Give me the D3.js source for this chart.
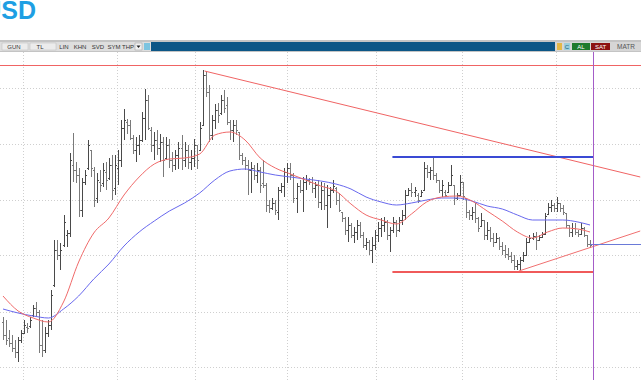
<!DOCTYPE html>
<html>
<head>
<meta charset="utf-8">
<script src="https://cdn.jsdelivr.net/npm/d3@7"></script>
<style>
  body { margin: 0; background: #fff; }
  svg { display: block; font-family: Arial, "Liberation Sans", sans-serif; }
</style>
</head>
<body>
<div id="chart"></div>
<script>
const width = 641, height = 380;
const plotTop = 52;

// daily OHLC
const opens = [2.846,2.833,2.830,2.825,2.820,2.816,2.828,2.835,2.841,2.842,
  2.853,2.860,2.856,2.823,2.818,2.835,2.843,2.883,2.918,2.913,
  2.923,2.933,2.935,3.003,2.998,2.993,2.958,2.986,3.000,3.018,
  2.998,2.970,2.986,2.985,2.996,2.990,3.003,2.980,3.000,3.008,
  3.040,3.046,3.043,3.030,3.018,3.023,3.028,3.050,3.068,3.038,
  3.023,3.028,3.020,3.026,3.010,3.023,3.008,3.003,3.013,3.020,
  3.008,3.018,3.006,3.010,3.023,3.018,3.043,3.093,3.076,3.033,
  3.048,3.058,3.055,3.068,3.063,3.046,3.038,3.043,3.036,3.013,
  3.008,3.003,2.998,3.000,2.993,2.998,2.985,2.983,2.963,2.960,
  2.965,2.956,2.978,2.982,2.996,3.000,2.993,2.970,2.982,2.978,
  2.986,2.988,2.986,2.980,2.983,2.966,2.978,2.963,2.973,2.978,
  2.980,2.968,2.956,2.950,2.938,2.943,2.933,2.936,2.943,2.933,
  2.923,2.926,2.918,2.923,2.933,2.940,2.943,2.946,2.933,2.938,
  2.946,2.938,2.948,2.953,2.973,2.978,2.976,2.973,2.972,2.978,
  3.000,2.996,2.998,2.993,2.988,2.978,2.976,2.976,2.983,2.983,
  2.970,2.973,2.986,2.970,2.956,2.953,2.956,2.950,2.942,2.948,
  2.933,2.938,2.930,2.926,2.930,2.922,2.918,2.914,2.912,2.908,
  2.902,2.904,2.908,2.913,2.926,2.930,2.932,2.928,2.931,2.934,
  2.954,2.961,2.963,2.960,2.965,2.960,2.955,2.943,2.936,2.940,
  2.936,2.934,2.940,2.933,2.924];
const highs = [2.851,2.848,2.838,2.833,2.828,2.831,2.838,2.848,2.845,2.851,
  2.863,2.866,2.858,2.848,2.841,2.848,2.878,2.928,2.928,2.925,
  2.953,2.938,3.015,3.035,3.006,3.000,2.990,2.998,3.028,3.018,
  3.001,2.995,2.998,3.005,3.006,3.010,3.013,3.013,3.018,3.048,
  3.059,3.049,3.048,3.033,3.031,3.033,3.056,3.079,3.073,3.041,
  3.036,3.038,3.034,3.031,3.031,3.029,3.016,3.018,3.026,3.033,
  3.026,3.023,3.018,3.029,3.023,3.046,3.098,3.096,3.083,3.053,
  3.064,3.065,3.073,3.078,3.071,3.048,3.048,3.048,3.036,3.015,
  3.011,3.008,3.006,3.003,3.005,3.001,3.008,2.985,2.968,2.970,
  2.968,2.981,2.985,3.000,3.005,3.005,2.995,2.985,2.988,2.991,
  2.993,2.990,2.991,2.986,2.988,2.986,2.985,2.983,2.981,2.988,
  2.981,2.975,2.956,2.951,2.951,2.945,2.941,2.948,2.946,2.936,
  2.930,2.928,2.931,2.938,2.946,2.950,2.951,2.948,2.941,2.951,
  2.948,2.951,2.958,2.978,2.980,2.985,2.981,2.975,2.978,3.006,
  3.003,3.001,3.011,2.995,2.988,2.988,2.978,2.986,3.003,2.983,
  2.975,2.993,2.986,2.970,2.958,2.961,2.965,2.951,2.955,2.948,
  2.946,2.941,2.935,2.935,2.931,2.926,2.923,2.920,2.916,2.913,
  2.908,2.911,2.916,2.930,2.933,2.935,2.936,2.933,2.936,2.955,
  2.965,2.968,2.965,2.971,2.965,2.963,2.955,2.943,2.945,2.945,
  2.938,2.945,2.941,2.933,2.928];
const lows = [2.828,2.823,2.821,2.816,2.810,2.806,2.825,2.835,2.835,2.840,
  2.851,2.851,2.815,2.811,2.815,2.831,2.838,2.881,2.908,2.898,
  2.921,2.921,2.931,2.986,2.985,2.951,2.951,2.983,2.998,2.991,
  2.961,2.965,2.976,2.981,2.978,2.988,2.968,2.973,2.983,3.001,
  3.028,3.034,3.028,3.014,3.006,3.013,3.026,3.028,3.038,3.016,
  3.008,3.013,3.006,2.991,3.008,3.000,2.996,2.998,2.999,2.998,
  3.001,2.999,2.998,3.001,2.999,3.018,3.043,3.071,3.026,3.028,
  3.039,3.045,3.053,3.055,3.043,3.028,3.026,3.033,3.008,3.003,
  2.998,2.973,2.975,2.988,2.985,2.975,2.980,2.956,2.955,2.958,
  2.953,2.948,2.975,2.971,2.985,2.988,2.965,2.955,2.975,2.956,
  2.978,2.983,2.975,2.970,2.960,2.958,2.958,2.940,2.960,2.975,
  2.963,2.956,2.946,2.933,2.926,2.930,2.925,2.928,2.930,2.920,
  2.918,2.913,2.905,2.918,2.926,2.931,2.936,2.928,2.916,2.935,
  2.931,2.936,2.943,2.948,2.973,2.971,2.971,2.965,2.971,2.978,
  2.990,2.988,2.988,2.985,2.975,2.971,2.971,2.975,2.983,2.963,
  2.968,2.973,2.968,2.950,2.948,2.948,2.945,2.936,2.941,2.928,
  2.928,2.926,2.921,2.925,2.918,2.913,2.910,2.908,2.905,2.898,
  2.898,2.898,2.906,2.913,2.925,2.928,2.918,2.928,2.930,2.933,
  2.953,2.956,2.956,2.956,2.956,2.953,2.940,2.931,2.931,2.933,
  2.931,2.933,2.931,2.921,2.920];
const closes = [2.833,2.828,2.825,2.820,2.816,2.828,2.835,2.843,2.840,2.848,
  2.860,2.856,2.823,2.818,2.835,2.843,2.873,2.918,2.913,2.918,
  2.946,2.935,3.008,2.998,2.993,2.958,2.986,2.993,3.023,3.000,
  2.968,2.988,2.983,2.998,2.988,3.003,2.978,3.003,3.008,3.040,
  3.048,3.043,3.030,3.018,3.023,3.028,3.050,3.068,3.040,3.023,
  3.028,3.020,3.026,3.008,3.023,3.008,3.003,3.013,3.020,3.008,
  3.018,3.006,3.010,3.023,3.008,3.040,3.093,3.076,3.033,3.048,
  3.058,3.053,3.068,3.060,3.046,3.038,3.043,3.038,3.013,3.008,
  3.003,2.998,3.000,2.993,2.998,2.983,2.983,2.963,2.960,2.965,
  2.958,2.978,2.982,2.996,3.000,2.993,2.970,2.982,2.978,2.986,
  2.988,2.986,2.980,2.983,2.966,2.978,2.963,2.973,2.978,2.982,
  2.968,2.958,2.950,2.938,2.943,2.933,2.936,2.943,2.933,2.923,
  2.926,2.918,2.923,2.933,2.940,2.943,2.946,2.933,2.938,2.946,
  2.938,2.948,2.953,2.973,2.978,2.976,2.978,2.968,2.976,3.000,
  2.996,2.998,2.993,2.988,2.978,2.983,2.973,2.983,2.993,2.970,
  2.973,2.986,2.972,2.956,2.953,2.956,2.950,2.940,2.948,2.933,
  2.938,2.930,2.926,2.930,2.922,2.918,2.914,2.912,2.908,2.902,
  2.904,2.908,2.913,2.926,2.930,2.932,2.928,2.931,2.934,2.952,
  2.961,2.963,2.960,2.965,2.960,2.956,2.943,2.936,2.940,2.936,
  2.934,2.940,2.933,2.924,2.923];

// moving averages, read at every 5th bar
const maIndex = [0,5,10,15,20,25,30,35,40,45,50,55,60,65,70,75,80,85,90,95,
  100,105,110,115,120,125,130,135,140,145,150,155,160,165,170,175,180,185,190,194];
const maFast = [2.872,2.857,2.850,2.846,2.866,2.906,2.935,2.950,2.973,2.991,
  3.004,3.009,3.010,3.014,3.033,3.036,3.028,3.010,3.000,2.994,
  2.988,2.982,2.977,2.964,2.953,2.948,2.944,2.954,2.966,2.971,
  2.972,2.967,2.957,2.947,2.936,2.930,2.936,2.940,2.939,2.936];
const maSlow = [2.859,2.855,2.852,2.850,2.859,2.872,2.889,2.904,2.922,2.936,
  2.947,2.957,2.965,2.975,2.988,2.997,2.999,2.996,2.993,2.991,
  2.989,2.987,2.984,2.979,2.971,2.966,2.963,2.965,2.968,2.970,
  2.970,2.967,2.962,2.959,2.953,2.948,2.948,2.948,2.946,2.943];

// grid and drawings
const gridPrices = [3.080, 3.024, 2.968, 2.913, 2.856, 2.801];
const gridBars = [6.6, 37.6, 63.4, 93.7, 123.4, 151.8, 182.8];
const topLevel = 3.103;
const resistance = 3.011, support = 2.896, levelFrom = 128.7;
const cursorBar = 195.1;
const lastPrice = 2.924;
const downTrend = {bars: [66.6, 210.6], prices: [3.097, 2.991]};
const upTrend = {bars: [170.5, 210.6], prices: [2.897, 2.937]};
const leftTools = ["GUN", "TL", "LIN", "KHN", "SVD", "SYM", "THP"];
const leftToolX = [14, 40, 64, 80, 98, 114, 128];

const svg = d3.select("#chart").append("svg")
    .attr("width", width).attr("height", height);

const x = d3.scaleLinear().domain([0, opens.length - 1]).range([3, 590]);
const y = d3.scaleLinear().domain([2.788, 3.116]).range([380, 52]);
const px = v => Math.round(v) + 0.5;

// title, cut at the left edge like the screenshot
svg.append("text")
    .attr("x", 36).attr("y", 19)
    .attr("text-anchor", "end")
    .style("font-size", "25px").style("font-weight", "bold")
    .style("fill", "#1e9fe3")
    .text("USD");

// toolbar
const bar = svg.append("g");
bar.append("rect").attr("x", 0).attr("y", 40).attr("width", width).attr("height", 12).attr("fill", "#c4c4c4");
bar.append("rect").attr("x", 0).attr("y", 42).attr("width", 151).attr("height", 9).attr("fill", "#dedede");
bar.append("rect").attr("x", 2).attr("y", 43).attr("width", 26).attr("height", 7).attr("fill", "#ececec").attr("stroke", "#bcbcbc").attr("stroke-width", 0.5);
bar.append("rect").attr("x", 30).attr("y", 43).attr("width", 26).attr("height", 7).attr("fill", "#ececec").attr("stroke", "#bcbcbc").attr("stroke-width", 0.5);
bar.selectAll("text.tool")
    .data(leftTools)
    .enter()
    .append("text")
    .attr("class", "tool")
    .attr("x", (d, i) => leftToolX[i]).attr("y", 49)
    .attr("text-anchor", "middle")
    .style("font-size", "6px").style("fill", "#333")
    .text(d => d);
bar.append("rect").attr("x", 135).attr("y", 43).attr("width", 7).attr("height", 7).attr("fill", "#f2f2f2").attr("stroke", "#999").attr("stroke-width", 0.5);
bar.append("path").attr("d", "M136.5,45.5 L140.5,45.5 L138.5,48 Z").attr("fill", "#222");
bar.append("rect").attr("x", 144).attr("y", 43).attr("width", 6).attr("height", 7).attr("fill", "#7cc4e0");
bar.append("rect").attr("x", 151).attr("y", 42).attr("width", 404).attr("height", 9).attr("fill", "#0c5686");
bar.append("rect").attr("x", 555).attr("y", 42).attr("width", 86).attr("height", 9).attr("fill", "#d6d6d6");
bar.append("rect").attr("x", 557).attr("y", 43).attr("width", 5).attr("height", 7).attr("fill", "#e4b848");
bar.append("rect").attr("x", 564).attr("y", 43).attr("width", 6).attr("height", 7).attr("fill", "#9ccfdc");
bar.append("text").attr("x", 567).attr("y", 49).attr("text-anchor", "middle")
    .style("font-size", "6px").style("fill", "#1b5f7e").text("C");
bar.append("rect").attr("x", 572).attr("y", 43).attr("width", 18).attr("height", 7).attr("fill", "#1f7a2c");
bar.append("text").attr("x", 581).attr("y", 49).attr("text-anchor", "middle")
    .style("font-size", "6px").style("fill", "#fff").text("AL");
bar.append("rect").attr("x", 591).attr("y", 43).attr("width", 19).attr("height", 7).attr("fill", "#8c1212");
bar.append("text").attr("x", 600.5).attr("y", 49).attr("text-anchor", "middle")
    .style("font-size", "6px").style("fill", "#fff").text("SAT");
bar.append("text").attr("x", 617).attr("y", 49)
    .style("font-size", "6.5px").style("fill", "#555").text("MATR");

// plot area
const plot = svg.append("g");
plot.append("clipPath").attr("id", "clip")
    .append("rect").attr("x", 0).attr("y", plotTop).attr("width", width).attr("height", height - plotTop);
const g = plot.append("g").attr("clip-path", "url(#clip)");

g.selectAll("line.hgrid")
    .data(gridPrices)
    .enter()
    .append("line")
    .attr("x1", 0).attr("x2", width)
    .attr("y1", d => px(y(d))).attr("y2", d => px(y(d)))
    .attr("stroke", "#cfcfcf").attr("stroke-dasharray", "1,2");
g.selectAll("line.vgrid")
    .data(gridBars)
    .enter()
    .append("line")
    .attr("x1", d => px(x(d))).attr("x2", d => px(x(d)))
    .attr("y1", plotTop).attr("y2", height)
    .attr("stroke", "#cfcfcf").attr("stroke-dasharray", "1,2");

// top horizontal level
g.append("line")
    .attr("x1", 0).attr("x2", width)
    .attr("y1", px(y(topLevel))).attr("y2", px(y(topLevel)))
    .attr("stroke", "#f06464");

// OHLC bars
const idx = d3.range(opens.length);
const barColor = i => closes[i] >= opens[i] ? "#4a4a4a" : "#7a7a7a";
const bars = g.append("g").attr("shape-rendering", "crispEdges");
bars.selectAll("line.hl")
    .data(idx)
    .enter()
    .append("line")
    .attr("x1", i => px(x(i))).attr("x2", i => px(x(i)))
    .attr("y1", i => y(highs[i])).attr("y2", i => y(lows[i]))
    .attr("stroke", barColor);
bars.selectAll("line.o")
    .data(idx)
    .enter()
    .append("line")
    .attr("x1", i => px(x(i)) - 1.5).attr("x2", i => px(x(i)))
    .attr("y1", i => px(y(opens[i]))).attr("y2", i => px(y(opens[i])))
    .attr("stroke", barColor);
bars.selectAll("line.c")
    .data(idx)
    .enter()
    .append("line")
    .attr("x1", i => px(x(i))).attr("x2", i => px(x(i)) + 1.5)
    .attr("y1", i => px(y(closes[i]))).attr("y2", i => px(y(closes[i])))
    .attr("stroke", barColor);

// moving averages
const maLine = series => d3.line()
    .x(i => x(maIndex[i]))
    .y(i => y(series[i]))
    .curve(d3.curveMonotoneX)(d3.range(maIndex.length));
g.append("path").attr("d", maLine(maSlow))
    .attr("fill", "none").attr("stroke", "#6868ee").attr("stroke-width", 1);
g.append("path").attr("d", maLine(maFast))
    .attr("fill", "none").attr("stroke", "#f06a6a").attr("stroke-width", 1);

// drawings
g.append("line")
    .attr("x1", x(downTrend.bars[0])).attr("x2", x(downTrend.bars[1]))
    .attr("y1", y(downTrend.prices[0])).attr("y2", y(downTrend.prices[1]))
    .attr("stroke", "#f06464");
g.append("line")
    .attr("x1", x(upTrend.bars[0])).attr("x2", x(upTrend.bars[1]))
    .attr("y1", y(upTrend.prices[0])).attr("y2", y(upTrend.prices[1]))
    .attr("stroke", "#f07070");
g.append("line")
    .attr("x1", x(levelFrom)).attr("x2", x(cursorBar))
    .attr("y1", y(resistance)).attr("y2", y(resistance))
    .attr("stroke", "#3a4ad4").attr("stroke-width", 2);
g.append("line")
    .attr("x1", x(levelFrom)).attr("x2", x(cursorBar))
    .attr("y1", y(support)).attr("y2", y(support))
    .attr("stroke", "#f05a5a").attr("stroke-width", 2);
g.append("line")
    .attr("x1", x(opens.length - 1)).attr("x2", width)
    .attr("y1", px(y(lastPrice))).attr("y2", px(y(lastPrice)))
    .attr("stroke", "#6a7ad8");
g.append("line")
    .attr("x1", px(x(cursorBar))).attr("x2", px(x(cursorBar)))
    .attr("y1", plotTop).attr("y2", height)
    .attr("stroke", "#a45cc8");
</script>
</body>
</html>
